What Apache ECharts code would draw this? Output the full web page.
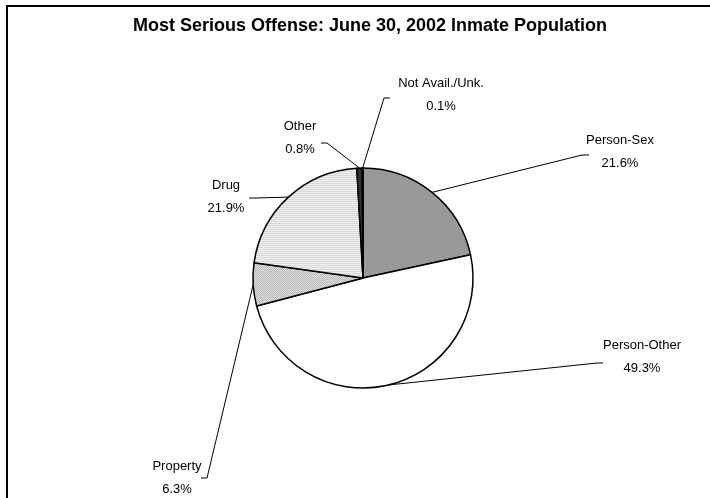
<!DOCTYPE html>
<html>
<head>
<meta charset="utf-8">
<script src="https://cdn.jsdelivr.net/npm/echarts@6/dist/echarts.min.js"></script>
<style>
  html, body { margin: 0; padding: 0; background: #ffffff; }
  #chart { width: 710px; height: 498px; }
</style>
</head>
<body>
<div id="chart"></div>
<script>
// Offense categories, clockwise from 12 o'clock, and their share of the population (%)
const categories = ['Person-Sex', 'Person-Other', 'Property', 'Drug', 'Other', 'Not Avail./Unk.'];
const shares = [21.6, 49.3, 6.3, 21.9, 0.8, 0.1];

// Small tiled fills for the hatched slices
function makePattern(w, h, paint) {
  const c = document.createElement('canvas');
  c.width = w; c.height = h;
  const ctx = c.getContext('2d');
  paint(ctx);
  return { image: c, repeat: 'repeat' };
}
const stripeFill = makePattern(2, 2, ctx => {
  ctx.fillStyle = '#f0f0f0'; ctx.fillRect(0, 0, 2, 2);
  ctx.fillStyle = '#d8d8d8'; ctx.fillRect(0, 1, 2, 1);
});
const dotFill = makePattern(2, 2, ctx => {
  ctx.fillStyle = '#e4e4e4'; ctx.fillRect(0, 0, 2, 2);
  ctx.fillStyle = '#b4b4b4'; ctx.fillRect(0, 0, 1, 1); ctx.fillRect(1, 1, 1, 1);
});

const sliceFills = ['#999999', '#ffffff', dotFill, stripeFill, '#333333', '#000000'];

// Where each label sits and where its leader line bends
const labelSpots = {
  'Person-Sex':      { x: 620, y: 152, bend: [582, 155], end: [589, 155] },
  'Person-Other':    { x: 642, y: 357, bend: [597, 363], end: [603, 363] },
  'Property':        { x: 177, y: 478, bend: [207, 478], end: [201, 478] },
  'Drug':            { x: 226, y: 197, bend: [255, 198], end: [249, 198] },
  'Other':           { x: 300, y: 138, bend: [327, 143], end: [321, 143] },
  'Not Avail./Unk.': { x: 441, y: 95,  bend: [384, 98],  end: [390, 98] }
};

const chart = echarts.init(document.getElementById('chart'), null, { renderer: 'canvas' });

chart.setOption({
  backgroundColor: '#ffffff',
  animation: false,
  title: {
    text: 'Most Serious Offense: June 30, 2002 Inmate Population',
    left: 365,
    top: 12,
    textAlign: 'center',
    textStyle: {
      fontFamily: 'Liberation Sans, Arial, sans-serif',
      fontSize: 18,
      fontWeight: 'bold',
      color: '#000000'
    }
  },
  graphic: [{
    type: 'rect',
    shape: { x: 7, y: 6, width: 720, height: 510 },
    style: { fill: 'none', stroke: '#000000', lineWidth: 2 },
    silent: true
  }],
  series: [{
    type: 'pie',
    center: [363, 278],
    radius: 110,
    startAngle: 90,
    clockwise: true,
    avoidLabelOverlap: false,
    itemStyle: { borderColor: '#000000', borderWidth: 1.5 },
    label: {
      show: true,
      position: 'outside',
      fontFamily: 'Liberation Sans, Arial, sans-serif',
      fontSize: 13,
      lineHeight: 23,
      color: '#000000',
      align: 'center',
      formatter: p => p.name + '\n' + p.value.toFixed(1) + '%'
    },
    labelLine: {
      show: true,
      lineStyle: { color: '#000000', width: 1 }
    },
    labelLayout: function (params) {
      const name = categories[params.dataIndex];
      const spot = labelSpots[name];
      const start = params.labelLinePoints ? params.labelLinePoints[0] : spot.bend;
      return {
        x: spot.x,
        y: spot.y,
        align: 'center',
        verticalAlign: 'middle',
        labelLinePoints: [start, spot.bend, spot.end]
      };
    },
    emphasis: { disabled: true },
    data: categories.map((name, i) => ({
      name: name,
      value: shares[i],
      itemStyle: { color: sliceFills[i] }
    }))
  }]
});
</script>
</body>
</html>
